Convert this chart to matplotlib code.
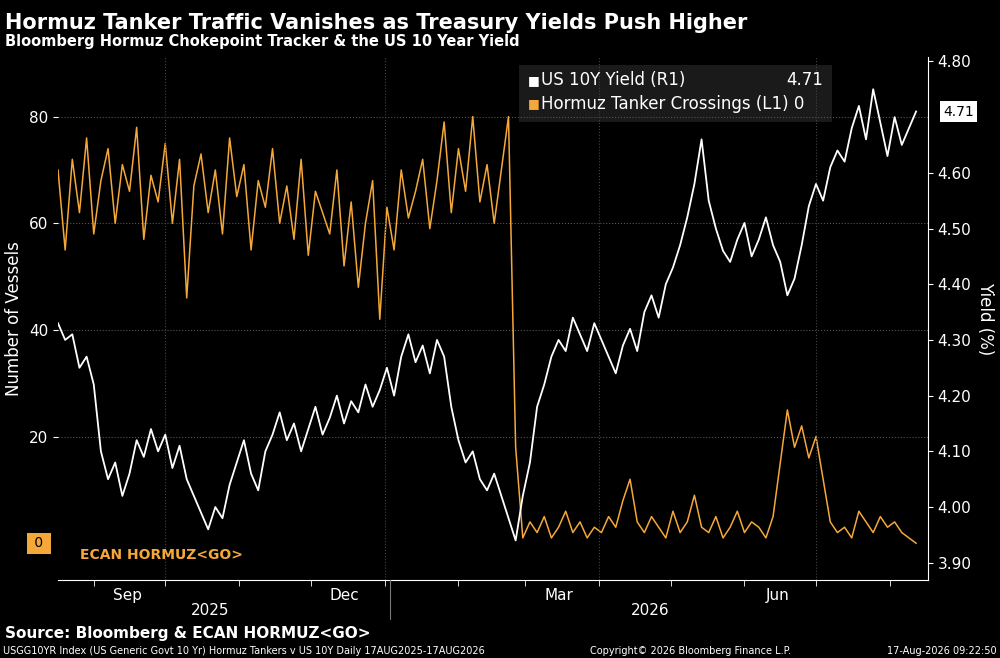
import matplotlib
matplotlib.use("Agg")
import matplotlib.pyplot as plt
import matplotlib.dates as mdates
import pandas as pd

tankers = [70,55,72,62,76,58,68,74,60,71,66,
           78,57,69,64,75,60,72,46,67,73,
           62,70,58,76,65,71,55,68,63,74,
           60,67,57,72,54,66,62,58,70,52,
           64,48,60,68,42,63,55,70,61,66,
           72,59,68,79,62,74,66,80,64,71,60,
           70,80,18,
           1,4,2,5,1,3,6,2,4,1,3,2,5,3,8,12,4,2,5,3,1,6,2,4,9,3,2,5,1,3,6,2,4,3,1,5,
           15,25,18,22,16,20,12,4,2,3,1,6,4,2,5,3,4,2,1,0]
yields = [4.33,4.30,4.31,4.25,4.27,4.22,4.10,4.05,4.08,4.02,4.06,
          4.12,4.09,4.14,4.10,4.13,4.07,4.11,4.05,4.02,3.99,
          3.96,4.00,3.98,4.04,4.08,4.12,4.06,4.03,4.10,4.13,
          4.17,4.12,4.15,4.10,4.14,4.18,4.13,4.16,4.20,4.15,
          4.19,4.17,4.22,4.18,4.21,4.25,4.20,4.27,4.31,4.26,
          4.29,4.24,4.30,4.27,4.18,4.12,4.08,4.10,4.05,4.03,
          4.06,4.02,3.98,3.94,4.02,4.08,4.18,4.22,4.27,4.30,
          4.28,4.34,4.31,4.28,4.33,4.30,4.27,4.24,4.29,4.32,
          4.28,4.35,4.38,4.34,4.40,4.43,4.47,4.52,4.58,4.66,
          4.55,4.50,4.46,4.44,4.48,4.51,4.45,4.48,4.52,4.47,
          4.44,4.38,4.41,4.47,4.54,4.58,4.55,4.61,4.64,4.62,
          4.68,4.72,4.66,4.75,4.69,4.63,4.70,4.65,4.68,4.71]
start = "2025-08-17"
t_dates = pd.date_range(start, periods=len(tankers), freq="3D")
y_dates = pd.date_range(start, periods=len(yields), freq="3D")

ORANGE = "#f5a83a"
fig = plt.figure(figsize=(10, 6.58), dpi=100, facecolor="black")
ax = fig.add_axes([0.058, 0.1185, 0.87, 0.795], facecolor="black")
ax2 = ax.twinx()

ax.plot(t_dates, tankers, color=ORANGE, lw=1.1)
ax2.plot(y_dates, yields, color="white", lw=1.3)

ax.set_ylim(-6.9, 91.2)
ax2.set_ylim(3.869, 4.808)
ax.set_xlim(pd.Timestamp("2025-08-17"), pd.Timestamp("2026-08-17"))
ax.set_yticks([20, 40, 60, 80])
rticks = [3.9, 4.0, 4.1, 4.2, 4.3, 4.4, 4.5, 4.6, 4.8]
ax2.set_yticks(rticks)
ax2.set_yticklabels([f"{v:.2f}" for v in rticks])
ax.grid(axis="y", color="#555555", ls=":", lw=0.8)
for d in ["2025-10-01", "2026-01-01", "2026-04-01", "2026-07-01"]:
    ax.axvline(pd.Timestamp(d), color="#444444", ls=":", lw=0.8)

ax.xaxis.set_major_locator(mdates.MonthLocator(bymonth=[9, 12, 3, 6], bymonthday=15))
ax.xaxis.set_major_formatter(mdates.DateFormatter("%b"))
ax.xaxis.set_minor_locator(mdates.MonthLocator())
ax.tick_params(axis="x", which="major", length=0, colors="white", labelsize=11, pad=6)
ax.tick_params(axis="x", which="minor", length=4, color="white")
ax.tick_params(axis="y", colors="white", labelsize=11)
ax2.tick_params(axis="y", colors="white", labelsize=11)
for a in (ax, ax2):
    for s in a.spines.values():
        s.set_visible(False)
ax2.spines["right"].set_visible(True)
ax2.spines["right"].set_color("white")
ax.spines["bottom"].set_visible(True)
ax.spines["bottom"].set_color("white")

ax.set_ylabel("Number of Vessels", color="white", fontsize=12)
ax2.set_ylabel("Yield (%)", color="white", fontsize=12, rotation=270, labelpad=16)

fig.text(0.21, 0.065, "2025", color="white", fontsize=11, ha="center")
fig.text(0.65, 0.065, "2026", color="white", fontsize=11, ha="center")
fig.add_artist(plt.Line2D([0.39, 0.39], [0.06, 0.118], color="#777777", lw=0.8))

# value tags
ax.text(-0.022, 0, " 0 ", transform=ax.get_yaxis_transform(), ha="center", va="center",
        fontsize=10, color="black", bbox=dict(boxstyle="square,pad=0.25", fc=ORANGE, ec="none"))
ax2.text(1.035, 4.71, "4.71", transform=ax2.get_yaxis_transform(), ha="center", va="center",
         fontsize=10, color="black", bbox=dict(boxstyle="square,pad=0.25", fc="white", ec="none"))
ax.text(0.025, 0.04, "ECAN HORMUZ<GO>", transform=ax.transAxes, color=ORANGE,
        fontsize=10, fontweight="bold")

# legend box
ax.text(0.54, 0.955, "■", transform=ax.transAxes, color="white", fontsize=9, va="center")
ax.text(0.555, 0.955, "US 10Y Yield (R1)", transform=ax.transAxes, color="white", fontsize=12, va="center")
ax.text(0.88, 0.955, "4.71", transform=ax.transAxes, color="white", fontsize=12, va="center", ha="right")
ax.text(0.54, 0.91, "■", transform=ax.transAxes, color=ORANGE, fontsize=9, va="center")
ax.text(0.555, 0.91, "Hormuz Tanker Crossings (L1) 0", transform=ax.transAxes, color="white", fontsize=12, va="center")
ax.add_patch(plt.Rectangle((0.53, 0.875), 0.36, 0.11, transform=ax.transAxes,
                           fc="#1a1a1a", ec="none", zorder=0))

fig.text(0.005, 0.965, "Hormuz Tanker Traffic Vanishes as Treasury Yields Push Higher",
         color="white", fontsize=15, fontweight="bold", va="center")
fig.text(0.005, 0.937, "Bloomberg Hormuz Chokepoint Tracker & the US 10 Year Yield",
         color="white", fontsize=10.5, fontweight="bold", va="center")
fig.text(0.005, 0.037, "Source: Bloomberg & ECAN HORMUZ<GO>", color="white",
         fontsize=11, fontweight="bold", va="center")
fig.text(0.003, 0.01, "USGG10YR Index (US Generic Govt 10 Yr) Hormuz Tankers v US 10Y Daily 17AUG2025-17AUG2026",
         color="white", fontsize=7, va="center")
fig.text(0.59, 0.01, "Copyright\u00a9 2026 Bloomberg Finance L.P.", color="white", fontsize=7, va="center")
fig.text(0.997, 0.01, "17-Aug-2026 09:22:50", color="white", fontsize=7, va="center", ha="right")

fig.savefig("out.png", dpi=100, facecolor="black")
